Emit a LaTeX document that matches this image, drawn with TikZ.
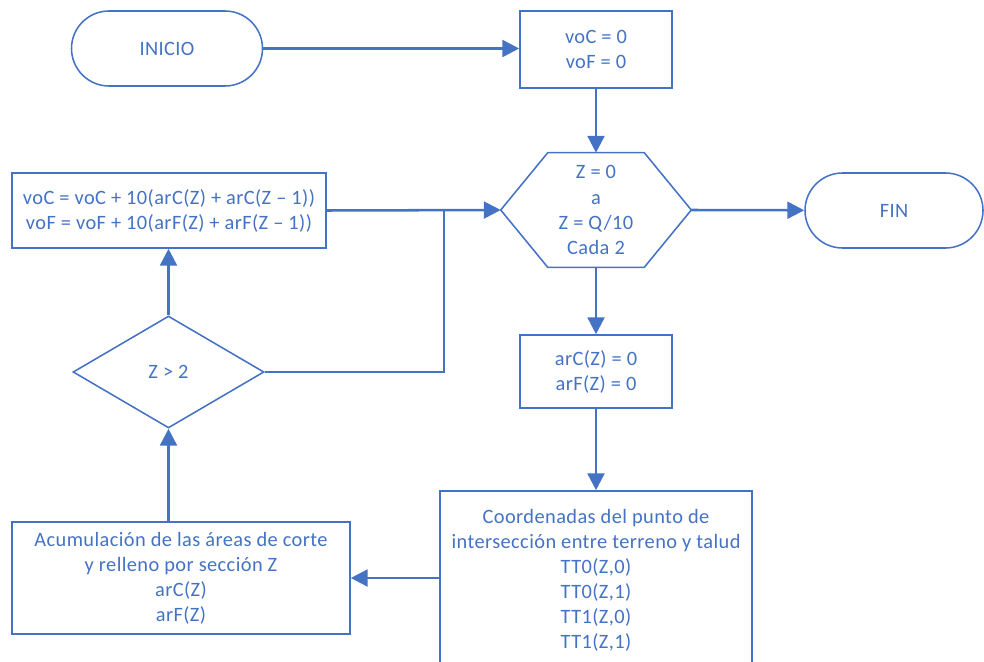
\documentclass[tikz,border=0pt]{standalone}
\usepackage{fontspec}
\setmainfont{Carlito}[LetterSpace=2]
\usetikzlibrary{arrows.meta}
\usetikzlibrary{shapes.geometric}
\usetikzlibrary{shapes.misc}

\definecolor{flowblue}{HTML}{4472C4}
\newcommand{\pxu}{0.025cm}

\begin{document}
\begin{tikzpicture}[x=0.025cm, y=-0.025cm,
    every node/.style={text=flowblue, font=\fontsize{14.5}{17.8}\selectfont, align=center, inner sep=0pt},
    box/.style={draw=flowblue, line width=1.1pt, rectangle},
    term/.style={draw=flowblue, line width=1.1pt, rounded rectangle},
    cond/.style={draw=flowblue, line width=1.1pt, diamond},
    flow/.style={draw=flowblue, line width=1.8pt, -{Triangle[length=0.42cm, width=0.42cm]}},
    link/.style={draw=flowblue, line width=1.8pt}]

\useasboundingbox (0,0) rectangle (984,662);

\node[term, minimum width=191*\pxu, minimum height=75*\pxu] (inicio) at (167,48.5) {INICIO};
\node[box, minimum width=152*\pxu, minimum height=77*\pxu] (init) at (596,49.5) {voC = 0\\voF = 0};

% hexagon of the loop
\node[minimum width=190*\pxu, minimum height=114*\pxu] (loop) at (596,210) {Z = 0\\a\\Z = Q/10\\Cada 2};
\draw[flowblue, line width=1.1pt] ([xshift=47*\pxu]loop.north west) -- ([xshift=-47*\pxu]loop.north east)
    -- (loop.east) -- ([xshift=-47*\pxu]loop.south east) -- ([xshift=47*\pxu]loop.south west)
    -- (loop.west) -- cycle;

\node[term, minimum width=178*\pxu, minimum height=75*\pxu] (fin) at (894,210.5) {FIN};
\node[box, minimum width=152*\pxu, minimum height=73*\pxu] (zero) at (596,371.5) {arC(Z) = 0\\arF(Z) = 0};
\node[box, minimum width=312*\pxu, minimum height=178*\pxu] (coord) at (596,580)
    {Coordenadas del punto de\\intersección entre terreno y talud\\TT0(Z,0)\\TT0(Z,1)\\TT1(Z,0)\\TT1(Z,1)};
\node[box, minimum width=338*\pxu, minimum height=112*\pxu] (acum) at (181,578)
    {Acumulación de las áreas de corte\\y relleno por sección Z\\arC(Z)\\arF(Z)};
\node[cond, minimum width=191*\pxu, minimum height=112*\pxu] (test) at (168.5,372) {Z > 2};
\node[box, minimum width=314*\pxu, minimum height=75*\pxu] (sum) at (169,210.5)
    {voC = voC + 10(arC(Z) + arC(Z – 1))\\voF = voF + 10(arF(Z) + arF(Z – 1))};

\coordinate (join) at (444,210.5);

\draw[flow] (inicio.east) -- (inicio.east -| init.west);
\draw[flow] (init) -- (loop.north);
\draw[flow] (loop.east) -- (fin);
\draw[flow] (loop.south) -- (zero);
\draw[flow] (zero) -- (coord);
\draw[flow] (coord.west |- acum.east) -- (acum.east);
\draw[flow] (test.south |- acum.north) -- (test.south);
\draw[flow] (test.north) -- (test.north |- sum.south);
\draw[flow] (sum.east) -- (loop.west);
\draw[link] (test.east) -| (join);
\end{tikzpicture}
\end{document}
